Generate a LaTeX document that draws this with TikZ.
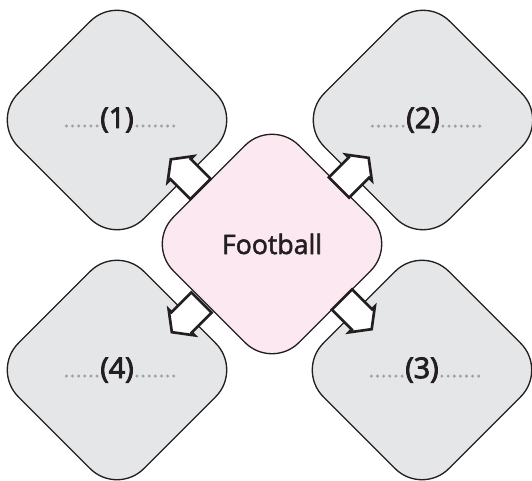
\documentclass[tikz,border=0pt]{standalone}
\usepackage{fontspec}
\setmainfont{Open Sans}
\newfontfamily\labelfont{Open Sans}[FakeBold=3]
\newfontfamily\topicfont{Open Sans}[FakeBold=2]
\usetikzlibrary{shapes.geometric,shapes.arrows}
\definecolor{inkc}{HTML}{231F20}
\definecolor{greyc}{RGB}{229,230,231}
\definecolor{pinkc}{RGB}{252,232,241}
\definecolor{dotc}{RGB}{160,162,165}
\tikzset{
	box/.style={diamond, aspect=1, draw=inkc, line width=1pt, rounded corners=28.5pt,
		minimum size=188.6pt, inner sep=0pt, text=inkc},
	topic/.style={box, fill=pinkc, font=\topicfont\fontsize{20}{24}\selectfont},
	slot/.style={box, fill=greyc},
	tag/.style={text=inkc, inner sep=0pt, font=\labelfont\fontsize{21.5}{24}\selectfont},
	pointer/.style={single arrow, draw=inkc, fill=white, line width=2pt,
		inner xsep=0pt, inner ysep=9.75pt, minimum height=31.5pt,
		single arrow head extend=3pt, single arrow tip angle=106},
	guide/.style={dotc, line width=2.5pt, line cap=round, dash pattern=on 0pt off 4.6pt}
}

\begin{document}
\begin{tikzpicture}[x=0.75pt, y=-0.75pt]
		\useasboundingbox (0, 0) rectangle (532, 480);
		%%%%% SLOTS %%%%%
		\node[slot] (s1) at (117, 120) {};
		\node[slot] (s2) at (423, 120) {};
		\node[slot] (s3) at (422, 370) {};
		\node[slot] (s4) at (117, 370) {};
		
		%%%%% LABELS %%%%%
		\node[tag] (l1) at (s1) {(1)};
		\node[tag] (l2) at (s2) {(2)};
		\node[tag] (l3) at (s3) {(3)};
		\node[tag] (l4) at (s4) {(4)};
		\foreach \l in {l1,l2,l3,l4}{
			\draw[guide] (\l.base west) ++(-3, -2) -- ++(-31, 0);
			\draw[guide] (\l.base east) ++(3, -2) -- ++(37, 0);
		}
		
		%%%%% TOPIC %%%%%
		\node[topic] (topic) at (272, 244) {Football};
		
		%%%%% POINTERS %%%%%
		\node[pointer, rotate=135] (p1) at (189.5, 178) {};
		\node[pointer, rotate=45] (p2) at (350, 176.5) {};
		\node[pointer, rotate=-45] (p3) at (353, 310.5) {};
		\node[pointer, rotate=-135] (p4) at (190.5, 313.5) {};
		%%%%% END %%%%%
	\end{tikzpicture}
\end{document}
